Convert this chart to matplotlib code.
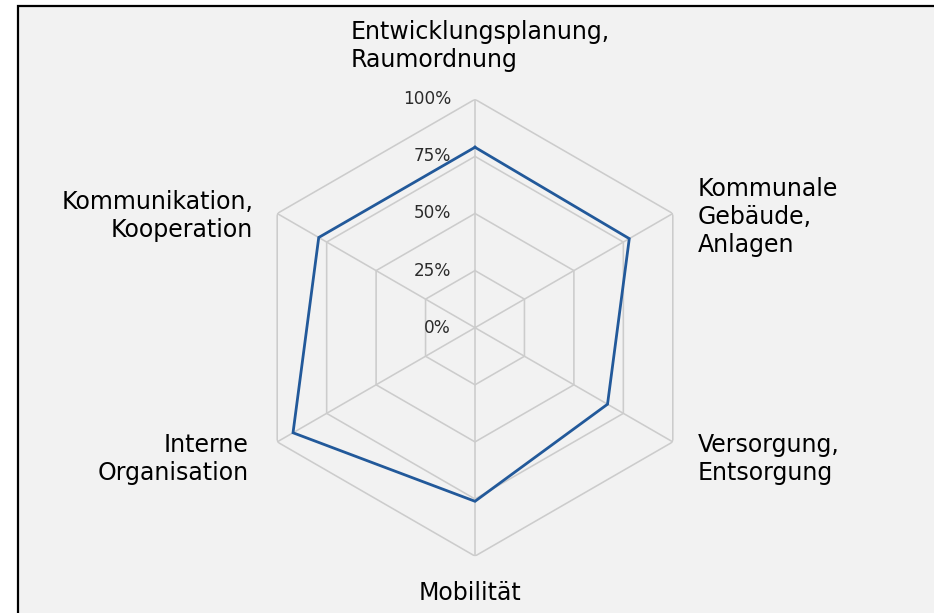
import numpy as np
import matplotlib
matplotlib.use("Agg")
import matplotlib.pyplot as plt
from matplotlib.patches import Rectangle

categories = ["Entwicklungsplanung,\nRaumordnung", "Kommunale\nGebäude,\nAnlagen",
              "Versorgung,\nEntsorgung", "Mobilität", "Interne\nOrganisation",
              "Kommunikation,\nKooperation"]
values = [0.79, 0.78, 0.67, 0.76, 0.92, 0.79]
levels = [0.0, 0.25, 0.5, 0.75, 1.0]
level_labels = ["0%", "25%", "50%", "75%", "100%"]

W, H = 934, 613
fig = plt.figure(figsize=(W / 100, H / 100), dpi=100)
fig.patch.set_facecolor("white")

# frame / chart area
fig.patches.append(Rectangle((18 / W, -0.05), 1.1, (H - 5.5) / H + 0.05,
                             transform=fig.transFigure, facecolor="#F2F2F2",
                             edgecolor="black", linewidth=1.6, zorder=-5))

cx, cy, R = 475, 613 - 327.7, 228.4
ax = fig.add_axes([(cx - R) / W, (cy - R) / H, 2 * R / W, 2 * R / H], projection="polar")
ax.set_zorder(2)
ax.set_theta_offset(np.pi / 2)
ax.set_theta_direction(-1)
ax.set_ylim(0, 1)
ax.patch.set_visible(False)
ax.grid(False)
ax.set_xticks([])
ax.set_yticks([])
ax.spines["polar"].set_visible(False)

n = len(categories)
angles = np.arange(n) * 2 * np.pi / n
closed = np.append(angles, angles[0])

grid_col = "#CCCCCC"
for lv in levels[1:]:
    ax.plot(closed, [lv] * (n + 1), color=grid_col, lw=1.15, zorder=1)
for a in angles:
    ax.plot([a, a], [0, 1], color=grid_col, lw=1.15, zorder=1)

ax.plot(closed, values + [values[0]], color="#22599A", lw=2.0, zorder=3,
        solid_joinstyle="miter")

for lv, lab in zip(levels, level_labels):
    ax.annotate(lab, xy=(0, lv), xytext=(-24, 0), textcoords="offset pixels",
                ha="right", va="center", fontsize=12.2, color="#2B2B2B",
                family="DejaVu Sans", annotation_clip=False)

fs = 17
ls = 1.22
def fx(x):
    return x / W
def fy(y):
    return 1 - y / H

fig.text(fx(351), fy(46), categories[0], ha="left", va="center", fontsize=fs,
         linespacing=ls, multialignment="left")
fig.text(fx(698), fy(217), categories[1], ha="left", va="center", fontsize=fs,
         linespacing=ls, multialignment="left")
fig.text(fx(698), fy(459), categories[2], ha="left", va="center", fontsize=fs,
         linespacing=ls, multialignment="left")
fig.text(fx(470), fy(593), categories[3], ha="center", va="center", fontsize=fs,
         linespacing=ls)
fig.text(fx(249), fy(459), categories[4], ha="right", va="center", fontsize=fs,
         linespacing=ls, multialignment="right")
fig.text(fx(253), fy(216), categories[5], ha="right", va="center", fontsize=fs,
         linespacing=ls, multialignment="right")

fig.savefig("out.png", dpi=100)
